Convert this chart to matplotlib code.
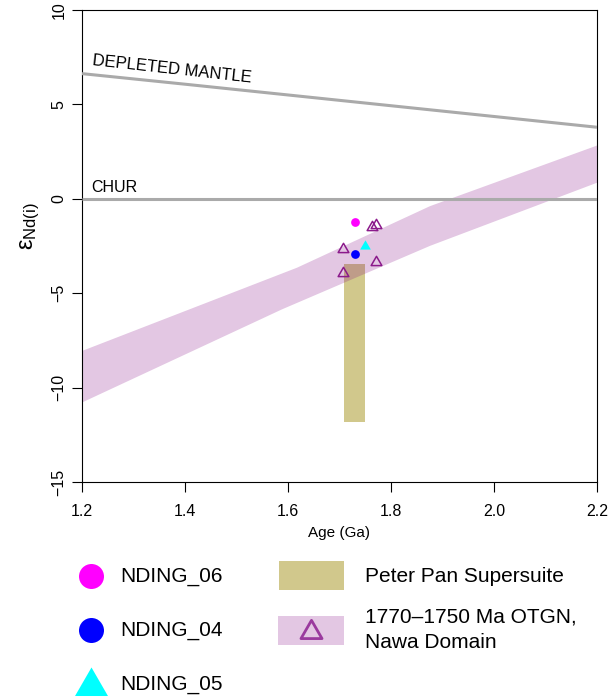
import matplotlib
matplotlib.use("Agg")
import matplotlib.pyplot as plt
from matplotlib.patches import Rectangle, Polygon
from matplotlib.path import Path

plt.rcParams['font.family'] = ['Liberation Sans', 'DejaVu Sans']
plt.rcParams['mathtext.fontset'] = 'custom'
plt.rcParams['mathtext.rm'] = 'Liberation Sans'
plt.rcParams['mathtext.it'] = 'Liberation Sans:italic'

# ---------------- data ----------------
dm_age = [1.2, 1.4, 1.6, 1.8, 2.0, 2.2]
dm_eps = [6.63, 6.07, 5.50, 4.93, 4.36, 3.79]

chur_age = [1.2, 2.2]
chur_eps = [0.0, 0.0]

band_top_age = [1.2, 1.6175, 1.8757, 2.2]
band_top_eps = [-8.06, -3.65, -0.39, 2.82]
band_bot_age = [1.2, 1.588, 1.876, 2.2]
band_bot_eps = [-10.79, -5.86, -2.49, 0.85]

peterpan_age = [1.709, 1.7495]
peterpan_eps = [-11.82, -3.44]

otgn_age = [1.707, 1.707, 1.7625, 1.770, 1.770]
otgn_eps = [-2.65, -3.92, -1.50, -1.41, -3.35]

s06_age, s06_eps = [1.730], [-1.24]
s04_age, s04_eps = [1.730], [-2.95]
s05_age, s05_eps = [1.7495], [-2.50]

xticks = [1.2, 1.4, 1.6, 1.8, 2.0, 2.2]
xticklabels = ['1.2', '1.4', '1.6', '1.8', '2.0', '2.2']
yticks = [-15, -10, -5, 0, 5, 10]
yticklabels = ['\u221215', '\u221210', '\u22125', '0', '5', '10']

# ---------------- style ----------------
W, H = 613, 697
fig = plt.figure(figsize=(W / 100, H / 100), dpi=100)
ax = fig.add_axes([82 / W, 1 - 482 / H, (597 - 82) / W, (482 - 10) / H])

tri = Path([(0, 1), (-0.866, -0.5), (0.866, -0.5), (0, 1)],
           [Path.MOVETO, Path.LINETO, Path.LINETO, Path.CLOSEPOLY])
gray = '#aaaaaa'
band_col = 'purple'
band_alpha = 0.22
khaki = '#d1c88c'
otgn_col = '#8B1A8B'

# Peter Pan bar
ax.add_patch(Rectangle((peterpan_age[0], peterpan_eps[0]),
                       peterpan_age[1] - peterpan_age[0],
                       peterpan_eps[1] - peterpan_eps[0],
                       facecolor=khaki, edgecolor='none', zorder=1))

# band
poly = list(zip(band_top_age, band_top_eps)) + list(zip(band_bot_age[::-1], band_bot_eps[::-1]))
ax.add_patch(Polygon(poly, closed=True, facecolor=band_col, alpha=band_alpha,
                     edgecolor='none', zorder=2))

# reference lines
ax.plot(dm_age, dm_eps, color=gray, lw=2.2, zorder=3, solid_capstyle='butt')
ax.plot(chur_age, chur_eps, color=gray, lw=2.2, zorder=3, solid_capstyle='butt')

ax.text(1.219, 7.1, 'DEPLETED MANTLE', fontsize=12, rotation=-6.3,
        rotation_mode='anchor', ha='left', va='baseline')
ax.text(1.217, 0.35, 'CHUR', fontsize=11.5, ha='left', va='baseline')

# points
ax.plot(otgn_age, otgn_eps, linestyle='none', marker=tri, markersize=8.9,
        markerfacecolor='none', markeredgecolor=otgn_col, markeredgewidth=1.1, zorder=5)
ax.plot(s06_age, s06_eps, linestyle='none', marker='o', markersize=6.3,
        color='#ff00ff', markeredgewidth=0, zorder=6)
ax.plot(s04_age, s04_eps, linestyle='none', marker='o', markersize=6.3,
        color='#0000ff', markeredgewidth=0, zorder=6)
ax.plot(s05_age, s05_eps, linestyle='none', marker=tri, markersize=8.9,
        color='#00ffff', markeredgewidth=0, zorder=6)

ax.set_xlim(1.2, 2.2)
ax.set_ylim(-15, 10)
ax.set_xticks(xticks)
ax.set_xticklabels(xticklabels, fontsize=11.5)
ax.set_yticks(yticks)
ax.set_yticklabels(yticklabels, fontsize=11.5, rotation=90, va='center')
ax.tick_params(direction='out', length=7, width=0.8)
ax.tick_params(axis='x', pad=9)
ax.tick_params(axis='y', pad=4)
for s in ax.spines.values():
    s.set_linewidth(0.8)

ax.set_xlabel('Age (Ga)', fontsize=11, labelpad=5)
fig.text(30 / W, 1 - 226 / H, r'$\mathrm{\varepsilon}_{\mathrm{Nd(i)}}$', fontsize=17,
         rotation=90, ha='center', va='center')

# ---------------- legend (pixel coordinates) ----------------
lg = fig.add_axes([0, 0, 1, 1], zorder=10)
lg.set_xlim(0, W)
lg.set_ylim(H, 0)
lg.axis('off')
lg.patch.set_alpha(0)

lg.plot([90.6], [576], marker='o', markersize=18, color='#ff00ff', markeredgewidth=0, linestyle='none')
lg.plot([90.6], [630], marker='o', markersize=18, color='#0000ff', markeredgewidth=0, linestyle='none')
lg.plot([90.6], [686], marker=tri, markersize=27.4, color='#00ffff', markeredgewidth=0, linestyle='none')
fs = 15
lg.text(120, 576, 'NDING_06', fontsize=fs, va='center', ha='left')
lg.text(120, 630, 'NDING_04', fontsize=fs, va='center', ha='left')
lg.text(120, 684, 'NDING_05', fontsize=fs, va='center', ha='left')

lg.add_patch(Rectangle((279, 561), 65, 29, facecolor=khaki, edgecolor='none'))
lg.add_patch(Rectangle((278, 616), 66, 29, facecolor=band_col, alpha=band_alpha, edgecolor='none'))
lg.plot([311], [632], marker=tri, markersize=17.5, markerfacecolor='none',
        markeredgecolor='#9a3a9e', markeredgewidth=2.0, linestyle='none')
lg.text(365, 576, 'Peter Pan Supersuite', fontsize=fs, va='center', ha='left')
lg.text(365, 617, '1770\u20131750 Ma OTGN,', fontsize=fs, va='center', ha='left')
lg.text(365, 643, 'Nawa Domain', fontsize=fs, va='center', ha='left')

fig.savefig('out.png', dpi=100)
